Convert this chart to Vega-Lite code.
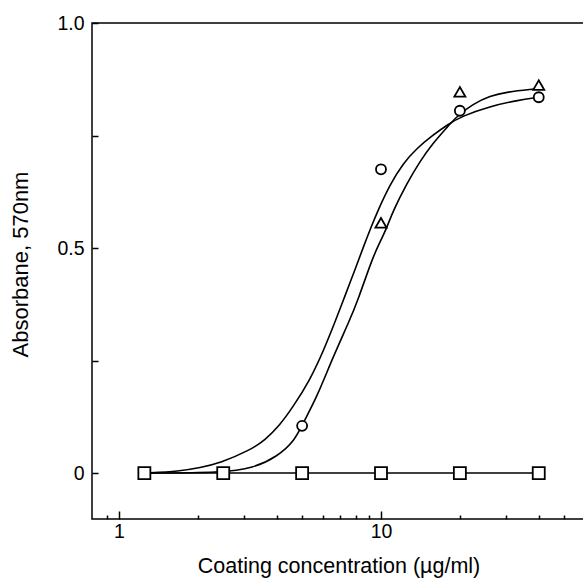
{
  "$schema": "https://vega.github.io/schema/vega-lite/v6.json",
  "autosize": "none",
  "width": 493,
  "height": 496,
  "padding": {"left": 92, "top": 23, "right": 0, "bottom": 60},
  "background": "white",
  "config": {
    "view": {"stroke": "black", "strokeWidth": 1.5},
    "font": "Liberation Sans"
  },
  "datasets": {
    "pts": [
      {"x": 1.25, "y": 0, "sym": "circle"},
      {"x": 2.5, "y": 0, "sym": "circle"},
      {"x": 5, "y": 0.105, "sym": "circle"},
      {"x": 10, "y": 0.675, "sym": "circle"},
      {"x": 20, "y": 0.805, "sym": "circle"},
      {"x": 40, "y": 0.835, "sym": "circle"},
      {"x": 10, "y": 0.556, "sym": "triangle"},
      {"x": 20, "y": 0.847, "sym": "triangle"},
      {"x": 40, "y": 0.862, "sym": "triangle"},
      {"x": 1.25, "y": 0, "sym": "square"},
      {"x": 2.5, "y": 0, "sym": "square"},
      {"x": 5, "y": 0, "sym": "square"},
      {"x": 10, "y": 0, "sym": "square"},
      {"x": 20, "y": 0, "sym": "square"},
      {"x": 40, "y": 0, "sym": "square"}
    ],
    "curves": [
      {"x": 1.25, "y": 0, "curve": "A"},
      {"x": 1.709, "y": 0.004, "curve": "A"},
      {"x": 2.038, "y": 0.012, "curve": "A"},
      {"x": 2.429, "y": 0.022, "curve": "A"},
      {"x": 3.162, "y": 0.051, "curve": "A"},
      {"x": 3.608, "y": 0.073, "curve": "A"},
      {"x": 4.117, "y": 0.107, "curve": "A"},
      {"x": 4.615, "y": 0.147, "curve": "A"},
      {"x": 5.358, "y": 0.207, "curve": "A"},
      {"x": 6.006, "y": 0.269, "curve": "A"},
      {"x": 6.733, "y": 0.341, "curve": "A"},
      {"x": 7.289, "y": 0.394, "curve": "A"},
      {"x": 7.958, "y": 0.452, "curve": "A"},
      {"x": 8.612, "y": 0.506, "curve": "A"},
      {"x": 9.159, "y": 0.546, "curve": "A"},
      {"x": 9.739, "y": 0.584, "curve": "A"},
      {"x": 10.82, "y": 0.641, "curve": "A"},
      {"x": 12.13, "y": 0.688, "curve": "A"},
      {"x": 13.72, "y": 0.722, "curve": "A"},
      {"x": 15.79, "y": 0.751, "curve": "A"},
      {"x": 18.02, "y": 0.775, "curve": "A"},
      {"x": 20.38, "y": 0.793, "curve": "A"},
      {"x": 26.06, "y": 0.815, "curve": "A"},
      {"x": 33.04, "y": 0.828, "curve": "A"},
      {"x": 40, "y": 0.835, "curve": "A"},
      {"x": 1.25, "y": 0, "curve": "B"},
      {"x": 2.5, "y": 0.001, "curve": "B"},
      {"x": 3.248, "y": 0.011, "curve": "B"},
      {"x": 4.01, "y": 0.036, "curve": "B"},
      {"x": 4.697, "y": 0.073, "curve": "B"},
      {"x": 5.04, "y": 0.111, "curve": "B"},
      {"x": 5.697, "y": 0.169, "curve": "B"},
      {"x": 6.559, "y": 0.258, "curve": "B"},
      {"x": 7.614, "y": 0.341, "curve": "B"},
      {"x": 8.172, "y": 0.385, "curve": "B"},
      {"x": 9.322, "y": 0.481, "curve": "B"},
      {"x": 9.913, "y": 0.513, "curve": "B"},
      {"x": 10.54, "y": 0.546, "curve": "B"},
      {"x": 11.11, "y": 0.582, "curve": "B"},
      {"x": 12.57, "y": 0.644, "curve": "B"},
      {"x": 14.09, "y": 0.693, "curve": "B"},
      {"x": 15.79, "y": 0.733, "curve": "B"},
      {"x": 17.86, "y": 0.768, "curve": "B"},
      {"x": 19.5, "y": 0.793, "curve": "B"},
      {"x": 22.45, "y": 0.82, "curve": "B"},
      {"x": 26.06, "y": 0.838, "curve": "B"},
      {"x": 30.26, "y": 0.847, "curve": "B"},
      {"x": 38.03, "y": 0.853, "curve": "B"},
      {"x": 40, "y": 0.854, "curve": "B"}
    ]
  },
  "encoding": {
    "x": {
      "field": "x", "type": "quantitative",
      "scale": {"type": "log", "domain": [0.789, 60.06], "nice": false, "zero": false},
      "axis": {
        "title": "Coating concentration (µg/ml)",
        "values": [0.9, 1, 2, 3, 4, 5, 6, 7, 8, 9, 10, 20, 30, 40, 50],
        "labelExpr": "datum.value == 1 || datum.value == 10 ? datum.value : ''",
        "domain": false, "grid": false,
        "tickColor": "black", "tickWidth": 1.5,
        "tickSize": {"condition": {"test": "datum.value == 1 || datum.value == 10", "value": -8}, "value": -4},
        "labelFont": "Liberation Sans", "labelFontSize": 19.5, "labelColor": "black",
        "labelPadding": 11, "labelFlush": false,
        "titleFont": "Liberation Sans", "titleFontSize": 21.5, "titleFontWeight": "normal", "titleColor": "black",
        "titleY": 36, "titleBaseline": "top"
      }
    },
    "y": {
      "field": "y", "type": "quantitative",
      "scale": {"domain": [-0.102, 1.0], "nice": false, "zero": false},
      "axis": {
        "title": "Absorbane, 570nm",
        "values": [0, 0.25, 0.5, 0.75, 1],
        "labelExpr": "datum.value == 0 ? '0' : datum.value == 0.5 ? '0.5' : datum.value == 1 ? '1.0' : ''",
        "domain": false, "grid": false,
        "tickColor": "black", "tickWidth": 1.5,
        "tickSize": -6,
        "labelFont": "Liberation Sans", "labelFontSize": 19.5, "labelColor": "black",
        "labelPadding": 14, "labelFlush": false,
        "titleFont": "Liberation Sans", "titleFontSize": 22, "titleFontWeight": "normal", "titleColor": "black",
        "titleAngle": -90, "titleBaseline": "bottom", "titleX": -60, "titleY": 241
      }
    }
  },
  "layer": [
    {
      "data": {"name": "pts"},
      "transform": [{"filter": "datum.sym == 'square'"}],
      "mark": {"type": "line", "color": "black", "strokeWidth": 1.5},
      "encoding": {}
    },
    {
      "data": {"name": "curves"},
      "mark": {"type": "line", "color": "black", "strokeWidth": 1.6, "interpolate": "basis"},
      "encoding": {"detail": {"field": "curve"}}
    },
    {
      "data": {"name": "pts"},
      "mark": {"type": "point", "filled": true, "fill": "white", "stroke": "black", "strokeWidth": 1.8, "opacity": 1},
      "encoding": {
        "shape": {"field": "sym", "type": "nominal", "scale": {"domain": ["circle", "triangle", "square"], "range": ["circle", "triangle-up", "square"]}, "legend": null},
        "size": {"field": "sym", "type": "nominal", "scale": {"domain": ["circle", "triangle", "square"], "range": [100, 144, 81]}, "legend": null}
      }
    }
  ]
}
